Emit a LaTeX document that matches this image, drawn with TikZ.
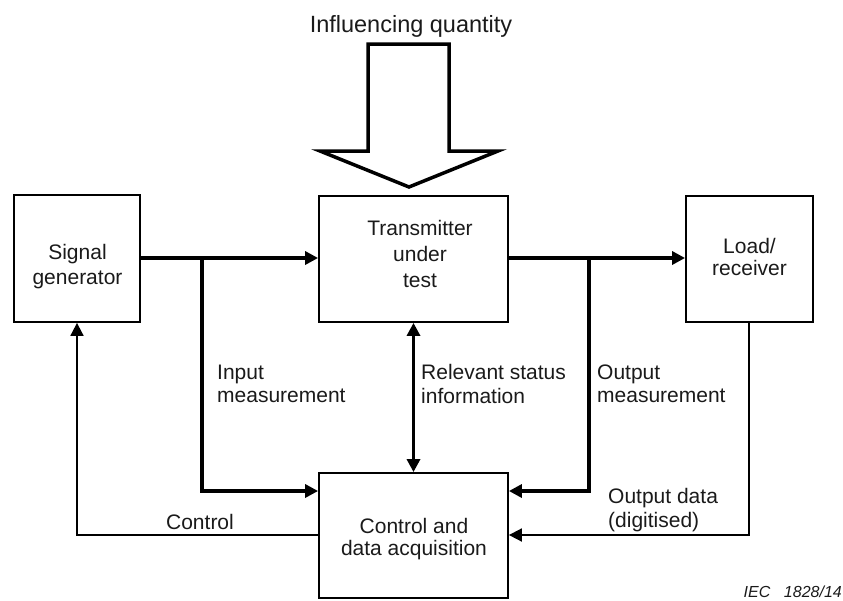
\documentclass[tikz,border=0pt]{standalone}
\usepackage{fontspec}
\setmainfont{Liberation Sans}
\usetikzlibrary{arrows.meta}
\definecolor{txt}{HTML}{1A1A1A}
\begin{document}
\begin{tikzpicture}[x=1pt,y=-1pt,
  box/.style={draw,line width=1.8pt,minimum width=#1,inner sep=0pt},
  boxtext/.style={inner sep=0pt,align=center,text=txt,font=\fontsize{21}{25}\selectfont},
  thick line/.style={line width=3.2pt},
  thin line/.style={line width=1.8pt},
  tip/.style={-{Triangle[length=13pt,width=13pt]}},
  lbl/.style={inner sep=0pt,align=left,anchor=west,text=txt,font=\fontsize{21}{23.5}\selectfont}]
\useasboundingbox (0,0) rectangle (843,600);
% boxes
\node[box=126pt,minimum height=127pt] (sg) at (77,258.5) {};
\node[boxtext] (sgt) at (77.5,267) {Signal\\generator};
\node[box=189pt,minimum height=126pt] (tut) at (413.5,259) {};
\node[boxtext,font=\fontsize{21}{26}\selectfont] (tutt) at (420,254) {Transmitter\\under\\test};
\node[box=127pt,minimum height=126pt] (lr) at (749.5,259) {\fontsize{21}{22}\selectfont};
\node[boxtext,font=\fontsize{21}{22}\selectfont] (lrt) at (749.5,257) {Load/\\receiver};
\node[box=189pt,minimum height=125pt] (cda) at (413.5,535.5) {};
\node[boxtext,font=\fontsize{21}{22}\selectfont] (cdat) at (414,539) {Control and\\data acquisition};
% junction coordinates
\coordinate (j1) at (202,258);
\coordinate (j1b) at (202,491);
\coordinate (j2) at (589,258);
\coordinate (j2b) at (589,491);
\coordinate (c1) at (77,535);
\coordinate (c2) at (749,535);
% connectors
\draw[thick line,tip] (sg.east |- j1) -- (tut.west |- j1);
\draw[thick line,tip] (tut.east |- j2) -- (lr.west |- j2);
\draw[thick line,tip] (j1) -- (j1b) -- (cda.west |- j1b);
\draw[thick line,tip] (j2) -- (j2b) -- (cda.east |- j2b);
\draw[thick line,{Triangle[length=13pt,width=13pt]}-{Triangle[length=13pt,width=13pt]}] (tut.south) -- (cda.north);
\draw[thin line,tip] (lr.south -| c2) -- (c2) -- (cda.east |- c2);
\draw[thin line,tip] (cda.west |- c1) -- (c1) -- (sg.south -| c1);
% big arrow
\draw[line width=3.5pt,miter limit=20] (368,44) -- (449,44) -- (449,151) -- (498,151) -- (409,187) -- (320,151) -- (368,151) -- cycle;
% labels
\node[inner sep=0pt,anchor=base,text=txt,font=\fontsize{23.5}{26}\selectfont] (iq) at (411,32) {Influencing quantity};
\node[lbl] (im) at (217,384) {Input\\measurement};
\node[lbl] (rs) at (421,384) {Relevant status\\information};
\node[lbl] (om) at (597,384) {Output\\measurement};
\node[lbl] (od) at (608,510) {Output data\\(digitised)};
\node[inner sep=0pt,anchor=base,text=txt,font=\fontsize{21}{23}\selectfont] (ctl) at (200,529) {Control};
\node[inner sep=0pt,anchor=base east,text=txt,font=\fontsize{16}{18}\selectfont\itshape] (iec) at (842,597) {IEC\hspace{0.85em}1828/14};
\end{tikzpicture}
\end{document}
